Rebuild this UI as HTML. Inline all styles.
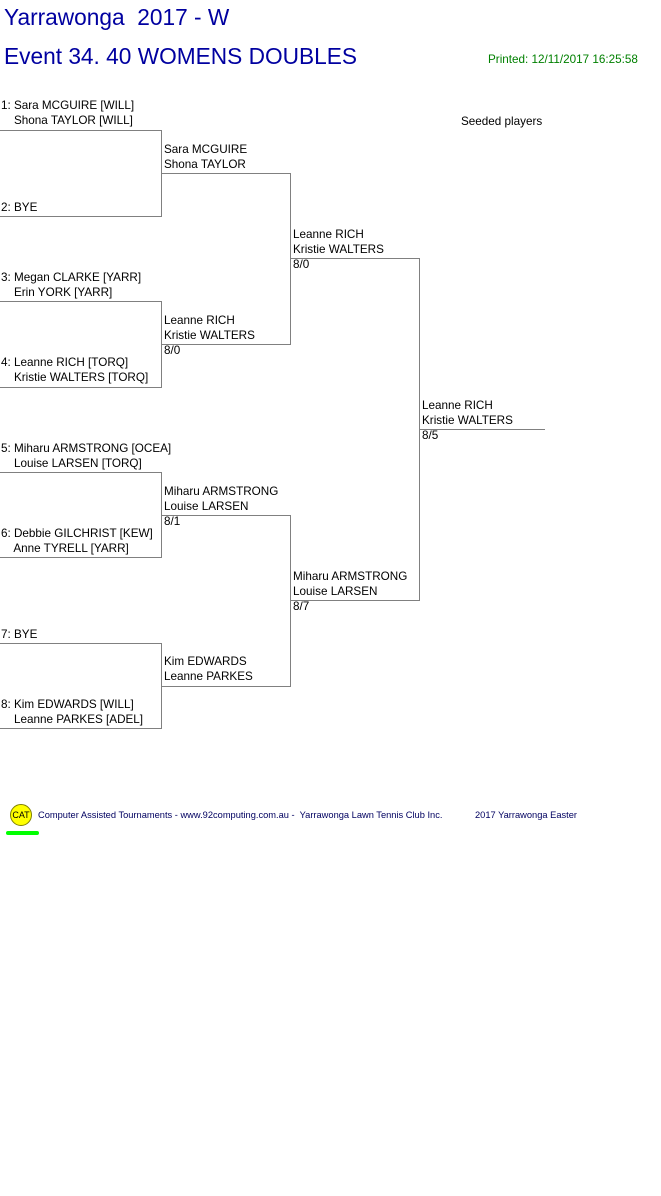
<!DOCTYPE html>
<html><head><style>
body{margin:0;width:661px;height:1196px;background:#fff;position:relative;font-family:"Liberation Sans",sans-serif;overflow:hidden}
.t{position:absolute;font-size:11.7px;line-height:15px;color:#000;white-space:pre}
.h{position:absolute;left:0;height:1px;background:#808080}
.v{position:absolute;width:1px;background:#808080}
</style></head><body>
<div class="t" style="left:4px;top:4px;font-size:22.7px;line-height:26px;color:#0000a0">Yarrawonga  2017 - W</div>
<div class="t" style="left:4px;top:42px;font-size:22.7px;line-height:28px;color:#0000a0">Event 34. 40 WOMENS DOUBLES</div>
<div class="t" style="left:488px;top:52px;color:#008000">Printed: 12/11/2017 16:25:58</div>
<div class="t" style="left:461px;top:114px">Seeded players</div>

<div class="t" style="left:1px;top:98px">1: Sara MCGUIRE [WILL]
    Shona TAYLOR [WILL]</div>
<div class="t" style="left:1px;top:200px">2: BYE</div>
<div class="t" style="left:1px;top:270px">3: Megan CLARKE [YARR]
    Erin YORK [YARR]</div>
<div class="t" style="left:1px;top:355px">4: Leanne RICH [TORQ]
    Kristie WALTERS [TORQ]</div>
<div class="t" style="left:1px;top:441px">5: Miharu ARMSTRONG [OCEA]
    Louise LARSEN [TORQ]</div>
<div class="t" style="left:1px;top:526px">6: Debbie GILCHRIST [KEW]
    Anne TYRELL [YARR]</div>
<div class="t" style="left:1px;top:627px">7: BYE</div>
<div class="t" style="left:1px;top:697px">8: Kim EDWARDS [WILL]
    Leanne PARKES [ADEL]</div>

<div class="h" style="top:130px;width:161px"></div><div class="h" style="top:216px;width:161px"></div><div class="v" style="left:161px;top:130px;height:87px"></div>
<div class="h" style="top:301px;width:161px"></div><div class="h" style="top:387px;width:161px"></div><div class="v" style="left:161px;top:301px;height:87px"></div>
<div class="h" style="top:472px;width:161px"></div><div class="h" style="top:557px;width:161px"></div><div class="v" style="left:161px;top:472px;height:86px"></div>
<div class="h" style="top:643px;width:161px"></div><div class="h" style="top:728px;width:161px"></div><div class="v" style="left:161px;top:643px;height:86px"></div>

<div class="h" style="left:161px;top:173px;width:130px"></div><div class="h" style="left:161px;top:344px;width:130px"></div><div class="v" style="left:290px;top:173px;height:172px"></div>
<div class="h" style="left:161px;top:515px;width:130px"></div><div class="h" style="left:161px;top:686px;width:130px"></div><div class="v" style="left:290px;top:515px;height:172px"></div>
<div class="h" style="left:290px;top:258px;width:130px"></div><div class="h" style="left:290px;top:600px;width:130px"></div><div class="v" style="left:419px;top:258px;height:343px"></div>
<div class="h" style="left:419px;top:429px;width:126px"></div>

<div class="t" style="left:164px;top:142px">Sara MCGUIRE
Shona TAYLOR</div>
<div class="t" style="left:164px;top:313px">Leanne RICH
Kristie WALTERS
8/0</div>
<div class="t" style="left:164px;top:484px">Miharu ARMSTRONG
Louise LARSEN
8/1</div>
<div class="t" style="left:164px;top:654px">Kim EDWARDS
Leanne PARKES</div>
<div class="t" style="left:293px;top:227px">Leanne RICH
Kristie WALTERS
8/0</div>
<div class="t" style="left:293px;top:569px">Miharu ARMSTRONG
Louise LARSEN
8/7</div>
<div class="t" style="left:422px;top:398px">Leanne RICH
Kristie WALTERS
8/5</div>

<div style="position:absolute;left:10px;top:804px;width:20px;height:20px;border-radius:50%;background:#ffff00;border:1px solid #808000;font-size:9px;line-height:20px;text-align:center;font-family:'Liberation Sans',sans-serif">CAT</div>
<div style="position:absolute;left:6px;top:831px;width:33px;height:4px;border-radius:2px;background:#00ff00"></div>
<div class="t" style="left:38px;top:809px;font-size:9.3px;line-height:12px;color:#000060">Computer Assisted Tournaments - www.92computing.com.au -  Yarrawonga Lawn Tennis Club Inc.</div>
<div class="t" style="left:475px;top:809px;font-size:9.3px;line-height:12px;color:#000060">2017 Yarrawonga Easter</div>
</body></html>
